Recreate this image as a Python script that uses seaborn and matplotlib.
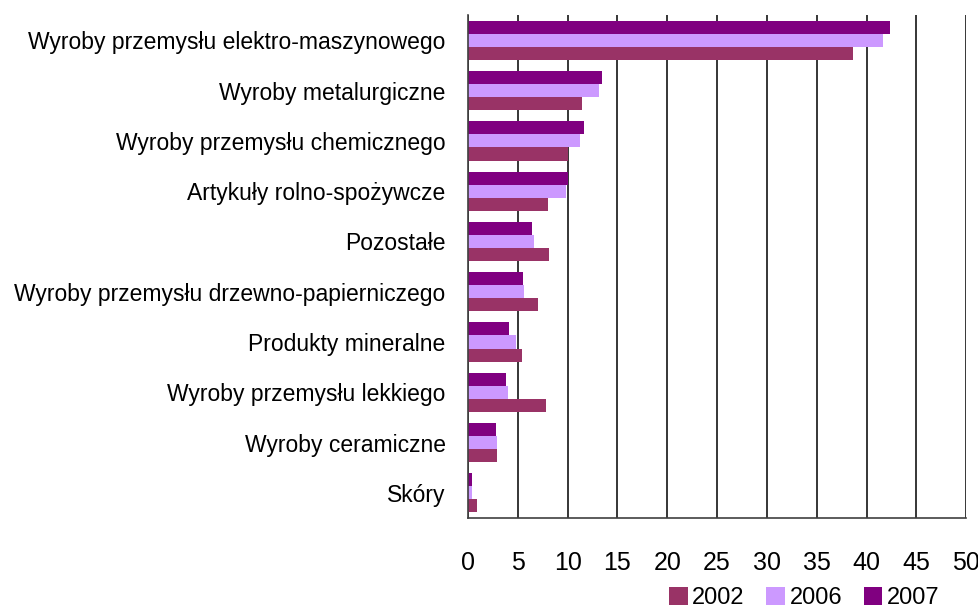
"""
Struktura eksportu wg grup towarowych - wykres słupkowy poziomy
"""

import seaborn as sns
import pandas as pd
import numpy as np
import matplotlib.pyplot as plt
from matplotlib.patches import Patch

categories = ['Wyroby przemysłu elektro-maszynowego', 'Wyroby metalurgiczne',
              'Wyroby przemysłu chemicznego', 'Artykuły rolno-spożywcze', 'Pozostałe',
              'Wyroby przemysłu drzewno-papierniczego', 'Produkty mineralne',
              'Wyroby przemysłu lekkiego', 'Wyroby ceramiczne', 'Skóry']
years = ['2002', '2006', '2007']
v2002 = [38.6, 11.4, 10.0, 8.0, 8.1, 7.0, 5.4, 7.8, 2.9, 0.9]
v2006 = [41.6, 13.1, 11.2, 9.8, 6.6, 5.6, 4.8, 4.0, 2.9, 0.4]
v2007 = [42.3, 13.4, 11.6, 10.0, 6.4, 5.5, 4.1, 3.8, 2.8, 0.4]
colors = {'2002': '#993366', '2006': '#CC99FF', '2007': '#800080'}
x_ticks = list(range(0, 51, 5))

rows = []
for year, vals in zip(years, [v2002, v2006, v2007]):
    for cat, v in zip(categories, vals):
        rows.append([cat, year, v])
df = pd.DataFrame(rows, columns=['kategoria', 'rok', 'udzial'])

sns.set_style('white')
plt.rcParams['font.family'] = ['Liberation Sans', 'DejaVu Sans']
plt.rcParams['text.color'] = 'black'
plt.rcParams['xtick.color'] = 'black'
plt.rcParams['ytick.color'] = 'black'

fig = plt.figure(figsize=(9.79, 6.08), dpi=100)
ax = fig.add_axes([0.478, 0.148, 0.509, 0.827])

sns.barplot(data=df, y='kategoria', x='udzial', hue='rok', order=categories,
            hue_order=['2007', '2006', '2002'], palette=colors, orient='h',
            width=0.78, linewidth=0, saturation=1, ax=ax, legend=False)

ax.set_xlim(0, 50)
ax.set_xticks(x_ticks)
ax.set_ylim(len(categories) - 0.5, -0.5)
ax.set_xlabel('')
ax.set_ylabel('')
ax.set_axisbelow(True)
ax.xaxis.grid(True, color='black', linewidth=1.1)
ax.yaxis.grid(False)

for s in ['top', 'right']:
    ax.spines[s].set_visible(False)
for s in ['left', 'bottom']:
    ax.spines[s].set_color('#404040')
    ax.spines[s].set_linewidth(1.2)

ax.set_yticks(np.arange(len(categories)) - 0.5, minor=True)
ax.tick_params(axis='y', which='major', length=0, pad=16, labelsize=16.5)
ax.tick_params(axis='y', which='minor', length=7, width=1.2, color='#404040', direction='out')
ax.tick_params(axis='x', which='major', length=9, width=1.2, color='#404040',
               direction='out', pad=15, labelsize=18)

handles = [Patch(facecolor=colors[y], edgecolor='none') for y in years]
fig.legend(handles, years, loc='center right', bbox_to_anchor=(0.96, 0.017),
           ncol=3, frameon=False, fontsize=17, handlelength=0.8, handleheight=0.8,
           handletextpad=0.2, columnspacing=0.9, borderpad=0, borderaxespad=0)

fig.savefig('out.png', dpi=100)
